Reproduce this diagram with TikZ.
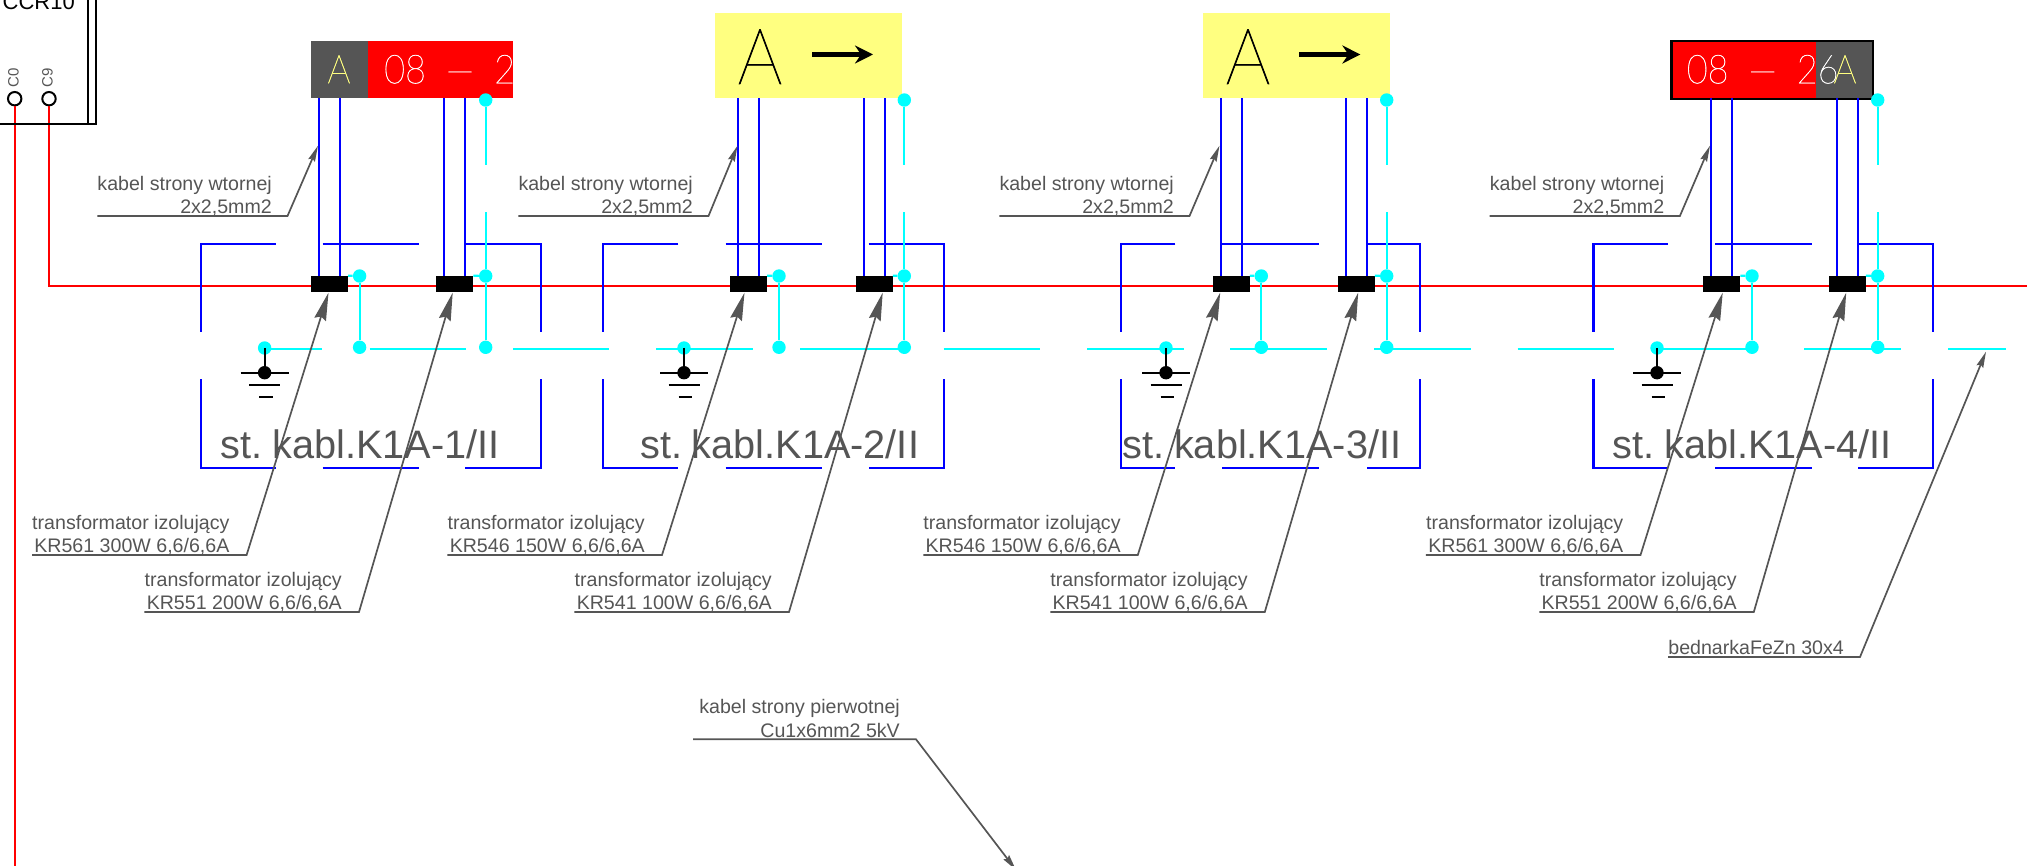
\documentclass[tikz,border=0pt]{standalone}
\usepackage{fontspec}
\usetikzlibrary{arrows.meta}
\setmainfont{Liberation Sans}
\newfontfamily\signfont[FakeStretch=0.9,FakeBold=1]{Lato Hairline}
\newcommand{\signcode}{\signfont\fontsize{40}{44}\selectfont\spaceskip 20pt\relax}
\newcommand{\stationfont}{\fontsize{39.7}{44}\selectfont\spaceskip 6pt\relax}
\definecolor{darkgrey}{HTML}{555555}
\definecolor{signyellow}{HTML}{FFFF80}
\definecolor{wirecyan}{HTML}{00FFFF}

\begin{document}
\begin{tikzpicture}[x=1pt,y=-1pt]
\tikzstyle{every node}+=[inner sep=0pt]
\tikzstyle{redline}=[draw=red,line width=2pt]
\tikzstyle{blueline}=[draw=blue,line width=2.2pt]
\tikzstyle{cyanline}=[draw=wirecyan,line width=2.2pt]
\tikzstyle{blackline}=[draw=black,line width=2.2pt]
\tikzstyle{trafo}=[rectangle,fill=black,minimum width=37pt,minimum height=16.5pt]
\tikzstyle{junction}=[circle,fill=wirecyan,minimum size=13.4pt]
\tikzstyle{earth}=[circle,fill=black,minimum size=13.4pt]
\tikzstyle{terminal}=[circle,draw=black,line width=2pt,fill=white,minimum size=13.4pt]
\tikzstyle{redsign}=[rectangle,fill=red,minimum width=201.5pt,minimum height=57pt]
\tikzstyle{greysign}=[rectangle,fill=darkgrey,minimum width=57pt,minimum height=57pt]
\tikzstyle{yellowsign}=[rectangle,fill=signyellow,minimum width=187pt,minimum height=85pt]
\tikzstyle{note}=[anchor=south east,align=right,text=darkgrey,text depth=2pt,font=\fontsize{19.6}{23.4}\selectfont]
\tikzstyle{stationname}=[anchor=base west,text=darkgrey,font=\stationfont]
\tikzstyle{smallcode}=[anchor=base west,text=white,font=\signcode]
\tikzstyle{signletter}=[anchor=base,text=signyellow,font=\signfont\fontsize{40}{44}\selectfont]
\tikzstyle{bigletter}=[anchor=base,text=black,font=\signfont\fontsize{78}{80}\selectfont]
\tikzstyle{leader}=[draw=darkgrey,line width=1.7pt]
\tikzstyle{bigtip}=[-{Stealth[length=28pt,width=12pt,inset=3pt]}]
\tikzstyle{smalltip}=[-{Stealth[length=16pt,width=7pt,inset=2pt]}]
\tikzstyle{signarrow}=[draw=black,line width=5.5pt,-{Stealth[length=18pt,width=18pt,inset=6pt]}]
\clip (0,0) rectangle (2027,866);

\node [terminal] (c0) at (14.7,98.7) {};
\node [terminal] (c9) at (49,98.7) {};
\draw [redline] (c0) -- ++(0,770);
\draw [redline] (c9) |- (2030,286.5);
\draw [blackline] (0,124.3) -- (97,124.3);
\draw [blackline] (88,0) -- (88,124.3);
\draw [blackline] (96,0) -- (96,124.3);
\node [anchor=base east,font=\fontsize{22}{24}\selectfont] (ccr) at (75,10) {CCR10};
\node [rotate=90,text=darkgrey,font=\fontsize{15}{17}\selectfont] (c0text) at (13.5,78) {C0};
\node [rotate=90,text=darkgrey,font=\fontsize{15}{17}\selectfont] (c9text) at (47.5,78) {C9};

\node [redsign] (red1) at (411.75,70) {};
\node [greysign] (grey1) at (339.5,70) {};
\node [signletter] (let1) at (339,83.3) {A};
\node [smallcode] (code1) at (384,83.3) {08 — 2};
\node [yellowsign] (yel2) at (808.5,55.8) {};
\node [bigletter] (let2) at (760,84) {A};
\draw [signarrow] (812,54.5) -- (873,54.5);
\node [yellowsign] (yel3) at (1296,55.8) {};
\node [bigletter] (let3) at (1248,84) {A};
\draw [signarrow] (1299.4,54.5) -- (1360.4,54.5);
\node [redsign] (red4) at (1772.5,70) {};
\node [greysign] (grey4) at (1844.5,70) {};
\draw [blackline] (red4.north west) rectangle (grey4.south east);
\node [smallcode] (code4) at (1686.6,83.3) {08 — 26};
\node [signletter] (let4) at (1845,83.3) {A};

\node [trafo] (tr1a) at (329.5,284.2) {};
\node [trafo] (tr1b) at (454.7,284.2) {};
\node [trafo] (tr2a) at (748.5,284.2) {};
\node [trafo] (tr2b) at (874.2,284.2) {};
\node [trafo] (tr3a) at (1231.2,284.2) {};
\node [trafo] (tr3b) at (1356.2,284.2) {};
\node [trafo] (tr4a) at (1721.7,284.2) {};
\node [trafo] (tr4b) at (1847.2,284.2) {};

\draw [blueline] (275.7,243.7) -| (201,331.7);
\draw [blueline] (322.5,243.7) -- (419,243.7);
\draw [blueline] (465.4,243.7) -| (541,331.7);
\draw [blueline] (201,379.3) |- (275.7,467.7);
\draw [blueline] (322.5,467.7) -- (419,467.7);
\draw [blueline] (541,379.3) |- (465.4,467.7);
\draw [blueline] (678.3,243.7) -| (603.3,331.7);
\draw [blueline] (725.7,243.7) -- (821.7,243.7);
\draw [blueline] (868.7,243.7) -| (943.7,331.7);
\draw [blueline] (603.3,379.3) |- (678.3,467.7);
\draw [blueline] (725.7,467.7) -- (821.7,467.7);
\draw [blueline] (943.7,379.3) |- (868.7,467.7);
\draw [blueline] (1175.3,243.7) -| (1121.3,331.7);
\draw [blueline] (1222,243.7) -- (1319,243.7);
\draw [blueline] (1366.7,243.7) -| (1420.3,331.7);
\draw [blueline] (1121.3,379.3) |- (1175.3,467.7);
\draw [blueline] (1222,467.7) -- (1319,467.7);
\draw [blueline] (1420.3,379.3) |- (1366.7,467.7);
\draw [blueline] (1668,243.7) -| (1593.4,331.7);
\draw [blueline] (1715,243.7) -- (1812,243.7);
\draw [blueline] (1857.6,243.7) -| (1933,331.7);
\draw [blueline] (1593.4,379.3) |- (1668,467.7);
\draw [blueline] (1715,467.7) -- (1812,467.7);
\draw [blueline] (1933,379.3) |- (1857.6,467.7);

\draw [blueline] ([xshift=-10.5pt]tr1a.north) -- ++(0,-178);
\draw [blueline] ([xshift=10.5pt]tr1a.north) -- ++(0,-178);
\draw [blueline] ([xshift=-10.5pt]tr1b.north) -- ++(0,-178);
\draw [blueline] ([xshift=10.5pt]tr1b.north) -- ++(0,-178);
\draw [blueline] ([xshift=-10.5pt]tr2a.north) -- ++(0,-178);
\draw [blueline] ([xshift=10.5pt]tr2a.north) -- ++(0,-178);
\draw [blueline] ([xshift=-10.5pt]tr2b.north) -- ++(0,-178);
\draw [blueline] ([xshift=10.5pt]tr2b.north) -- ++(0,-178);
\draw [blueline] ([xshift=-10.5pt]tr3a.north) -- ++(0,-178);
\draw [blueline] ([xshift=10.5pt]tr3a.north) -- ++(0,-178);
\draw [blueline] ([xshift=-10.5pt]tr3b.north) -- ++(0,-178);
\draw [blueline] ([xshift=10.5pt]tr3b.north) -- ++(0,-178);
\draw [blueline] ([xshift=-10.5pt]tr4a.north) -- ++(0,-178);
\draw [blueline] ([xshift=10.5pt]tr4a.north) -- ++(0,-178);
\draw [blueline] ([xshift=-10.5pt]tr4b.north) -- ++(0,-178);
\draw [blueline] ([xshift=10.5pt]tr4b.north) -- ++(0,-178);

\draw [cyanline] (264.6,348.7) -- (322,348.7);
\draw [cyanline] (369.6,348.7) -- (466,348.7);
\draw [cyanline] (513,348.7) -- (609.3,348.7);
\draw [cyanline] (656.3,348.7) -- (753,348.7);
\draw [cyanline] (800,348.7) -- (904.3,348.7);
\draw [cyanline] (943.7,348.7) -- (1040,348.7);
\draw [cyanline] (1087,348.7) -- (1183.7,348.7);
\draw [cyanline] (1230.3,348.7) -- (1327,348.7);
\draw [cyanline] (1374,348.7) -- (1470.7,348.7);
\draw [cyanline] (1517.5,348.7) -- (1614,348.7);
\draw [cyanline] (1657,348.7) -- (1752,348.7);
\draw [cyanline] (1804,348.7) -- (1901,348.7);
\draw [cyanline] (1948,348.7) -- (2006,348.7);

\node [junction] (top1) at (485.7,100) {};
\node [junction] (top2) at (904.3,100) {};
\node [junction] (top3) at (1386.7,100) {};
\node [junction] (top4) at (1877.7,100) {};
\node [junction] (up1a) at (359.6,276) {};
\node [junction] (up1b) at (485.7,276) {};
\node [junction] (up2a) at (779,276) {};
\node [junction] (up2b) at (904.3,276) {};
\node [junction] (up3a) at (1261.3,276) {};
\node [junction] (up3b) at (1386.7,276) {};
\node [junction] (up4a) at (1752,276) {};
\node [junction] (up4b) at (1877.7,276) {};
\node [junction] (lo1a) at (359.6,347.3) {};
\node [junction] (lo1b) at (485.7,347.3) {};
\node [junction] (lo2a) at (779,347.3) {};
\node [junction] (lo2b) at (904.3,347.3) {};
\node [junction] (lo3a) at (1261.3,347.3) {};
\node [junction] (lo3b) at (1386.7,347.3) {};
\node [junction] (lo4a) at (1752,347.3) {};
\node [junction] (lo4b) at (1877.7,347.3) {};
\draw [cyanline] (top1) -- ++(0,65);
\draw [cyanline] (top2) -- ++(0,65);
\draw [cyanline] (top3) -- ++(0,65);
\draw [cyanline] (top4) -- ++(0,65);
\draw [cyanline] (up1b) -- ++(0,-64);
\draw [cyanline] (up2b) -- ++(0,-64);
\draw [cyanline] (up3b) -- ++(0,-64);
\draw [cyanline] (up4b) -- ++(0,-64);
\draw [cyanline] (up1a) -- (lo1a);
\draw [cyanline] (up1b) -- (lo1b);
\draw [cyanline] (up2a) -- (lo2a);
\draw [cyanline] (up2b) -- (lo2b);
\draw [cyanline] (up3a) -- (lo3a);
\draw [cyanline] (up3b) -- (lo3b);
\draw [cyanline] (up4a) -- (lo4a);
\draw [cyanline] (up4b) -- (lo4b);
\draw [cyanline] (tr1a.north east) -- (up1a);
\draw [cyanline] (tr1b.north east) -- (up1b);
\draw [cyanline] (tr2a.north east) -- (up2a);
\draw [cyanline] (tr2b.north east) -- (up2b);
\draw [cyanline] (tr3a.north east) -- (up3a);
\draw [cyanline] (tr3b.north east) -- (up3b);
\draw [cyanline] (tr4a.north east) -- (up4a);
\draw [cyanline] (tr4b.north east) -- (up4b);

\node [junction] (gc1) at (264.6,348) {};
\node [earth] (ge1) at (264.6,372.7) {};
\draw [blackline] (gc1.center) -- (ge1);
\draw [blackline] ([xshift=-24pt]ge1.center) -- ([xshift=24pt]ge1.center);
\draw [blackline] (249,384.7) -- (280,384.7);
\draw [blackline] (259,396.7) -- (272.5,396.7);
\node [junction] (gc2) at (684,348) {};
\node [earth] (ge2) at (684,372.7) {};
\draw [blackline] (gc2.center) -- (ge2);
\draw [blackline] ([xshift=-24pt]ge2.center) -- ([xshift=24pt]ge2.center);
\draw [blackline] (668.5,384.7) -- (699.5,384.7);
\draw [blackline] (678.5,396.7) -- (692,396.7);
\node [junction] (gc3) at (1166,348) {};
\node [earth] (ge3) at (1166,372.7) {};
\draw [blackline] (gc3.center) -- (ge3);
\draw [blackline] ([xshift=-24pt]ge3.center) -- ([xshift=24pt]ge3.center);
\draw [blackline] (1150.5,384.7) -- (1181.5,384.7);
\draw [blackline] (1160.5,396.7) -- (1174,396.7);
\node [junction] (gc4) at (1657,348) {};
\node [earth] (ge4) at (1657,372.7) {};
\draw [blackline] (gc4.center) -- (ge4);
\draw [blackline] ([xshift=-24pt]ge4.center) -- ([xshift=24pt]ge4.center);
\draw [blackline] (1641.5,384.7) -- (1672.5,384.7);
\draw [blackline] (1651.5,396.7) -- (1665,396.7);

\node [stationname] (st1) at (220.7,458) {st. kabl.K1A-1/II};
\node [stationname] (st2) at (640,458) {st. kabl.K1A-2/II};
\node [stationname] (st3) at (1122.3,458) {st. kabl.K1A-3/II};
\node [stationname] (st4) at (1612.6,458) {st. kabl.K1A-4/II};

\node [note] (sec1) at (272,216) {kabel strony wtornej\\2x2,5mm2};
\node [note] (sec2) at (693,216) {kabel strony wtornej\\2x2,5mm2};
\node [note] (sec3) at (1174,216) {kabel strony wtornej\\2x2,5mm2};
\node [note] (sec4) at (1664.4,216) {kabel strony wtornej\\2x2,5mm2};
\draw [leader,smalltip] (sec1.south west) -- ([xshift=15.5pt]sec1.south east) -- (318,145.7);
\draw [leader,smalltip] (sec2.south west) -- ([xshift=15.5pt]sec2.south east) -- (737.5,145.7);
\draw [leader,smalltip] (sec3.south west) -- ([xshift=15.5pt]sec3.south east) -- (1219.5,145.7);
\draw [leader,smalltip] (sec4.south west) -- ([xshift=15.5pt]sec4.south east) -- (1710,145.7);

\node [note] (lab1a) at (229.6,555) {transformator izolujący\\KR561 300W 6,6/6,6A};
\node [note] (lab1b) at (342,612) {transformator izolujący\\KR551 200W 6,6/6,6A};
\node [note] (lab2a) at (645,555) {transformator izolujący\\KR546 150W 6,6/6,6A};
\node [note] (lab2b) at (772,612) {transformator izolujący\\KR541 100W 6,6/6,6A};
\node [note] (lab3a) at (1120.8,555) {transformator izolujący\\KR546 150W 6,6/6,6A};
\node [note] (lab3b) at (1247.8,612) {transformator izolujący\\KR541 100W 6,6/6,6A};
\node [note] (lab4a) at (1623.5,555) {transformator izolujący\\KR561 300W 6,6/6,6A};
\node [note] (lab4b) at (1736.8,612) {transformator izolujący\\KR551 200W 6,6/6,6A};
\draw [leader,bigtip] (lab1a.south west) -- ([xshift=17pt]lab1a.south east) -- ([xshift=-1pt]tr1a.south);
\draw [leader,bigtip] (lab1b.south west) -- ([xshift=17pt]lab1b.south east) -- ([xshift=-2pt]tr1b.south);
\draw [leader,bigtip] (lab2a.south west) -- ([xshift=17pt]lab2a.south east) -- ([xshift=-4pt]tr2a.south);
\draw [leader,bigtip] (lab2b.south west) -- ([xshift=17pt]lab2b.south east) -- ([xshift=8.5pt]tr2b.south);
\draw [leader,bigtip] (lab3a.south west) -- ([xshift=17pt]lab3a.south east) -- ([xshift=-11pt]tr3a.south);
\draw [leader,bigtip] (lab3b.south west) -- ([xshift=17pt]lab3b.south east) -- ([xshift=2pt]tr3b.south);
\draw [leader,bigtip] (lab4a.south west) -- ([xshift=17pt]lab4a.south east) -- ([xshift=1pt]tr4a.south);
\draw [leader,bigtip] (lab4b.south west) -- ([xshift=17pt]lab4b.south east) -- ([xshift=-1pt]tr4b.south);

\node [note] (flat) at (1844,657) {bednarkaFeZn 30x4};
\draw [leader,smalltip] (flat.south west) -- ([xshift=16pt]flat.south east) -- (1986,351.7);
\node [note] (prim) at (900,739.3) {kabel strony pierwotnej\\Cu1x6mm2 5kV};
\draw [leader,smalltip] ([xshift=-6pt]prim.south west) -- ([xshift=16pt]prim.south east) -- (1016,870);
\end{tikzpicture}
\end{document}
